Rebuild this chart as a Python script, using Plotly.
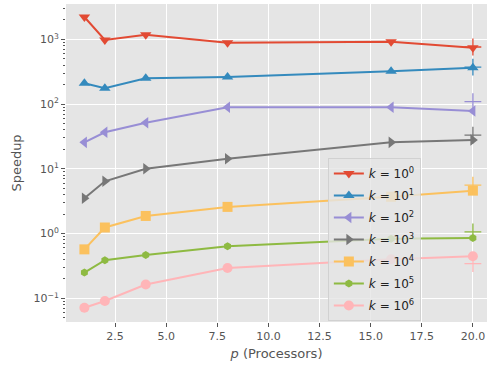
import plotly.graph_objects as go

# Data
processors = [1, 2, 4, 8, 16, 20]
k_labels = ["0", "1", "2", "3", "4", "5", "6"]
speedup_k0 = [2210, 975, 1180, 886, 918, 740]
speedup_k1 = [209, 175, 250, 262, 320, 365]
speedup_k2 = [25.6, 36.6, 51.5, 89, 89, 78]
speedup_k3 = [3.5, 6.4, 10.0, 14.3, 25.6, 27.9]
speedup_k4 = [0.57, 1.24, 1.87, 2.58, 3.7, 4.6]
speedup_k5 = [0.25, 0.387, 0.468, 0.637, 0.83, 0.857]
speedup_k6 = [0.0716, 0.091, 0.163, 0.294, 0.40, 0.446]
# extra '+' points at p=20
plus_p = [20]
plus_values = [760, 372, 109, 33, 5.6, 1.06, 0.344]

series = [speedup_k0, speedup_k1, speedup_k2, speedup_k3, speedup_k4, speedup_k5, speedup_k6]
colors = ["#E24A33", "#348ABD", "#988ED5", "#777777", "#FBC15E", "#8EBA42", "#FFB5B8"]
symbols = ["triangle-down", "triangle-up", "triangle-left", "triangle-right", "square", "hexagon", "circle"]
sizes = [10, 10, 10, 10, 10, 8, 10]

fig = go.Figure()
for lab, ys, c, s, sz in zip(k_labels, series, colors, symbols, sizes):
    fig.add_trace(go.Scatter(
        x=processors, y=ys, mode="lines+markers",
        name=f"<i>k</i> = 10<sup>{lab}</sup>",
        legendgroup=f"k{lab}",
        line=dict(color=c, width=2),
        marker=dict(symbol=s, size=sz, color=c),
    ))
for pv, c in zip(plus_values, colors):
    fig.add_trace(go.Scatter(
        x=plus_p, y=[pv], mode="markers", showlegend=False,
        marker=dict(symbol="cross-thin", size=12, line=dict(color=c, width=1.3)),
    ))

minor_vals = [m * 10 ** e for e in range(-2, 4) for m in range(2, 10)]

fig.update_layout(
    width=487, height=368,
    margin=dict(l=66, r=0, t=4, b=46),
    paper_bgcolor="white",
    plot_bgcolor="#E5E5E5",
    font=dict(family="DejaVu Sans", color="#555555", size=11),
    showlegend=True,
    legend=dict(
        x=0.622, y=0.516, xanchor="left", yanchor="top",
        bgcolor="rgba(229,229,229,0.8)", bordercolor="rgba(204,204,204,0.8)", borderwidth=1,
        font=dict(size=12, color="#222222"),
        tracegroupgap=3, itemwidth=30,
    ),
)
fig.update_xaxes(
    range=[0.1, 20.69], tick0=0, dtick=2.5, tickformat=".1f",
    showgrid=True, gridcolor="white", gridwidth=1, zeroline=False,
    ticks="outside", ticklen=4, tickcolor="#555555", automargin=False,
    title=dict(text="<i>p</i> (Processors)", font=dict(size=13, color="#555555"), standoff=6),
)
fig.update_yaxes(
    type="log", range=[-1.366, 3.545],
    tickvals=[0.1, 1, 10, 100, 1000],
    ticktext=["10<sup>−1</sup>", "10<sup>0</sup>", "10<sup>1</sup>", "10<sup>2</sup>", "10<sup>3</sup>"],
    showgrid=True, gridcolor="white", gridwidth=1, zeroline=False,
    ticks="outside", ticklen=4, tickcolor="#555555", automargin=False,
    minor=dict(tickvals=minor_vals, ticks="outside", ticklen=2, tickcolor="#555555", showgrid=False),
    title=dict(text="Speedup", font=dict(size=13, color="#555555"), standoff=8),
)

fig.write_html("out.html", config={"displayModeBar": False},
               post_script="document.body.style.margin='0px';")
